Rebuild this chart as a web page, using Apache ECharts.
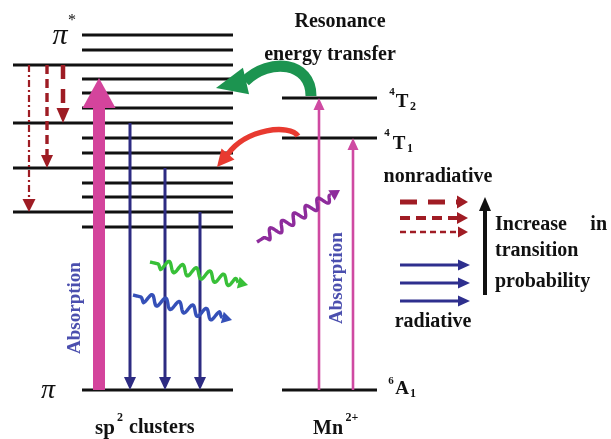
<!DOCTYPE html>
<html><head><meta charset="utf-8">
<script src="https://cdn.jsdelivr.net/npm/echarts/dist/echarts.min.js"></script>
<style>html,body{margin:0;padding:0;background:#fff}#c{width:611px;height:439px}</style>
</head><body><div id="c"></div>
<script>
// ---------- DATA (energy in arbitrary units, pi level = 0; x = diagram position) ----------
const sp2ShortLevels = [3.55, 3.40, 3.11, 2.97, 2.82, 2.52, 2.37, 2.07, 1.93, 1.63];
const sp2LongLevels  = [3.25, 2.67, 2.22, 1.78];
const piLevels       = [0];
const mnLevelNames   = ['4T2', '4T1', '6A1'];
const mnLevels       = [2.92, 2.52, 0];

// transitions: [x, fromEnergy, toEnergy]
const absorptionSp2  = [[99, 0, 3.12]];
const radiativeSp2   = [[130, 2.67, 0], [165, 2.22, 0], [200, 1.78, 0]];
const nonradiative   = [[63, 3.25, 2.67], [47, 3.25, 2.22], [29, 3.25, 1.78]];
const absorptionMn   = [[319, 0, 2.92], [353, 0, 2.52]];
// photon emissions: [x0, E0, x1, E1]
const wavyEmission   = [[150, 1.28, 248, 1.05], [133, 0.95, 232, 0.70], [257, 1.48, 340, 2.00]];
// resonance energy transfer: [x0, E0, x1, E1]
const energyTransfer = [[311, 2.94, 216, 3.02], [298, 2.54, 217, 2.23]];
// legend arrows: [x0, E, x1]
const legendNonrad   = [[400, 1.88, 468], [400, 1.72, 468], [400, 1.58, 468]];
const legendRad      = [[400, 1.25, 470], [400, 1.07, 470], [400, 0.89, 470]];
const probArrow      = [[485, 0.95, 1.93]];

// ---------- LAYOUT ----------
const sp2ShortSpan = [82, 233], sp2LongSpan = [13, 233], mnSpan = [282, 377];
const E_MIN = -0.49, E_MAX = 3.90;

const FONT = '"Liberation Serif","DejaVu Serif",serif';
const nonradStyles = [
  {lw: 4.5, dash: [14, 10], hl: 15, hw: 13},
  {lw: 3.4, dash: [9, 5], hl: 13, hw: 12},
  {lw: 2.2, dash: [7, 3, 2, 3], hl: 13, hw: 13}
];
const legendNonradStyles = [
  {lw: 5, dash: [17, 11], hl: 11, hw: 13},
  {lw: 4, dash: [10, 6], hl: 11, hw: 12},
  {lw: 2.4, dash: [6, 4], hl: 10, hw: 11}
];

function arrow(p0, p1, s) {
  const dx = p1[0] - p0[0], dy = p1[1] - p0[1], L = Math.hypot(dx, dy);
  const ux = dx / L, uy = dy / L, nx = -uy, ny = ux;
  const bx = p1[0] - ux * s.hl, by = p1[1] - uy * s.hl;
  const ex = bx + ux * 1, ey = by + uy * 1;
  return {type: 'group', children: [
    {type: 'line', shape: {x1: p0[0], y1: p0[1], x2: ex, y2: ey},
     style: {stroke: s.color, lineWidth: s.lw, lineDash: s.dash || null, lineCap: 'butt'}},
    {type: 'polygon', shape: {points: [[p1[0], p1[1]], [bx + nx * s.hw / 2, by + ny * s.hw / 2], [bx - nx * s.hw / 2, by - ny * s.hw / 2]]},
     style: {fill: s.color}}
  ]};
}
function wavy(p0, p1, s) {
  const dx = p1[0] - p0[0], dy = p1[1] - p0[1], L = Math.hypot(dx, dy);
  const ux = dx / L, uy = dy / L, nx = -uy, ny = ux;
  const end = L - s.hl, pts = [];
  for (let t = 0; t <= end; t += 0.5) {
    let off = 0;
    if (t > s.lead) {
      const env = Math.min(1, (t - s.lead) / 4, (end - t) / 4);
      off = s.amp * env * Math.sin(2 * Math.PI * (t - s.lead) / s.lam);
    }
    pts.push([p0[0] + ux * t + nx * off, p0[1] + uy * t + ny * off]);
  }
  const bx = p1[0] - ux * s.hl, by = p1[1] - uy * s.hl;
  return {type: 'group', children: [
    {type: 'polyline', shape: {points: pts}, style: {stroke: s.color, lineWidth: s.lw, fill: null, lineJoin: 'round'}},
    {type: 'polygon', shape: {points: [[p1[0], p1[1]], [bx + nx * s.hw / 2, by + ny * s.hw / 2], [bx - nx * s.hw / 2, by - ny * s.hw / 2]]},
     style: {fill: s.color}}
  ]};
}
function curved(p0, tip, s) {
  const bx = tip[0] + s.back[0], by = tip[1] + s.back[1];
  const L = Math.hypot(tip[0] - bx, tip[1] - by);
  const ux = (tip[0] - bx) / L, uy = (tip[1] - by) / L, nx = -uy, ny = ux;
  return {type: 'group', children: [
    {type: 'bezierCurve', shape: {x1: p0[0], y1: p0[1], x2: bx + ux, y2: by + uy,
       cpx1: p0[0] + s.c1[0], cpy1: p0[1] + s.c1[1], cpx2: bx + s.c2[0], cpy2: by + s.c2[1]},
     style: {stroke: s.color, lineWidth: s.lw, fill: null, lineCap: 'butt'}},
    {type: 'polygon', shape: {points: [[tip[0], tip[1]], [bx + nx * s.hw / 2, by + ny * s.hw / 2], [bx - nx * s.hw / 2, by - ny * s.hw / 2]]},
     style: {fill: s.color}}
  ]};
}

function seg(name, data, render, z) {
  return {type: 'custom', name, coordinateSystem: 'cartesian2d', data, silent: true, animation: false, z: z || 2,
    renderItem(params, api) {
      const p0 = api.coord([api.value(0), api.value(1)]);
      const p1 = api.coord([api.value(2), api.value(3)]);
      return render(p0, p1, params.dataIndex);
    }};
}
const vert = a => a.map(d => [d[0], d[1], d[0], d[2]]);
const horiz = a => a.map(d => [d[0], d[1], d[2], d[1]]);

const levelData = [
  ...sp2ShortLevels.map(e => [sp2ShortSpan[0], e, sp2ShortSpan[1], e]),
  ...sp2LongLevels.map(e => [sp2LongSpan[0], e, sp2LongSpan[1], e]),
  ...piLevels.map(e => [sp2ShortSpan[0], e, sp2ShortSpan[1], e]),
  ...mnLevels.map(e => [mnSpan[0], e, mnSpan[1], e])
];

const series = [
  seg('levels', levelData, (p0, p1) => ({type: 'line', shape: {x1: p0[0], y1: p0[1], x2: p1[0], y2: p1[1]},
      style: {stroke: '#111', lineWidth: 2.8}}), 1),
  seg('absorption sp2', vert(absorptionSp2), (p0, p1) => arrow(p0, p1, {color: '#d4449c', lw: 12, hl: 30, hw: 33})),
  seg('radiative sp2', vert(radiativeSp2), (p0, p1) => arrow(p0, p1, {color: '#2d2b82', lw: 3, hl: 13, hw: 12})),
  seg('nonradiative', vert(nonradiative), (p0, p1, i) => arrow(p0, p1, Object.assign({color: '#9e1c24'}, nonradStyles[i]))),
  seg('absorption Mn', vert(absorptionMn), (p0, p1) => arrow(p0, p1, {color: '#cf4aa2', lw: 2.6, hl: 12, hw: 11})),
  seg('emission', wavyEmission, (p0, p1, i) => wavy(p0, p1, Object.assign({lw: 3.4, amp: 5, lam: 14, lead: 8, hl: 10, hw: 12},
      {color: ['#38c038', '#3550b8', '#8e2c9c'][i]}))),
  seg('transfer', energyTransfer, (p0, p1, i) => curved(p0, p1, [
      {color: '#1c9450', lw: 11, back: [30, -7], c1: [0, -34], c2: [24, -24], hw: 27},
      {color: '#e83a30', lw: 5.5, back: [11, -13], c1: [-8, -12], c2: [18, -26], hw: 17}][i])),
  seg('legend nonrad', horiz(legendNonrad), (p0, p1, i) => arrow(p0, p1, Object.assign({color: '#a01c24'}, legendNonradStyles[i]))),
  seg('legend rad', horiz(legendRad), (p0, p1) => arrow(p0, p1, {color: '#2e2f8e', lw: 3, hl: 12, hw: 11})),
  seg('probability', vert(probArrow), (p0, p1) => arrow(p0, p1, {color: '#111', lw: 4, hl: 14, hw: 12}))
];

function txt(x, y, text, size, opt) {
  opt = opt || {};
  return {type: 'text', x, y, rotation: opt.rot || 0, silent: true, z: 10,
    style: {text, font: (opt.italic ? 'italic ' : '') + (opt.bold === false ? '' : 'bold ') + size + 'px ' + FONT,
      fill: opt.color || '#111', align: opt.align || 'center', verticalAlign: 'middle'}};
}
const graphic = [
  txt(60, 36, 'π', 30, {italic: true, bold: false}),
  txt(72, 21, '*', 16, {bold: false}),
  txt(48, 391, 'π', 28, {italic: true, bold: false}),
  txt(340, 22, 'Resonance', 20),
  txt(330, 55, 'energy transfer', 20),
  txt(392, 92, '4', 11), txt(402, 102, 'T', 19), txt(413, 107, '2', 12),
  txt(387, 133, '4', 11), txt(399, 144, 'T', 19), txt(410, 149, '1', 12),
  txt(391, 381, '6', 11), txt(402, 389, 'A', 19), txt(413, 394, '1', 12),
  txt(438, 177, 'nonradiative', 20),
  txt(433, 322, 'radiative', 20),
  txt(495, 225, 'Increase', 20, {align: 'left'}),
  txt(607, 225, 'in', 20, {align: 'right'}),
  txt(495, 251, 'transition', 20, {align: 'left'}),
  txt(495, 282, 'probability', 20, {align: 'left'}),
  txt(75, 308, 'Absorption', 19, {rot: Math.PI / 2, color: '#4b4fae'}),
  txt(337, 278, 'Absorption', 19, {rot: Math.PI / 2, color: '#4b4fae'}),
  txt(95, 429, 'sp', 21, {align: 'left'}), txt(120, 418, '2', 12), txt(129, 428, 'clusters', 20, {align: 'left'}),
  txt(313, 429, 'Mn', 20, {align: 'left'}), txt(352, 418, '2+', 12)
];

const chart = echarts.init(document.getElementById('c'));
chart.setOption({
  animation: false,
  backgroundColor: '#fff',
  grid: {left: 0, right: 0, top: 0, bottom: 0},
  xAxis: {type: 'value', min: 0, max: 611, show: false},
  yAxis: {type: 'value', min: E_MIN, max: E_MAX, show: false},
  series,
  graphic
});
</script></body></html>
